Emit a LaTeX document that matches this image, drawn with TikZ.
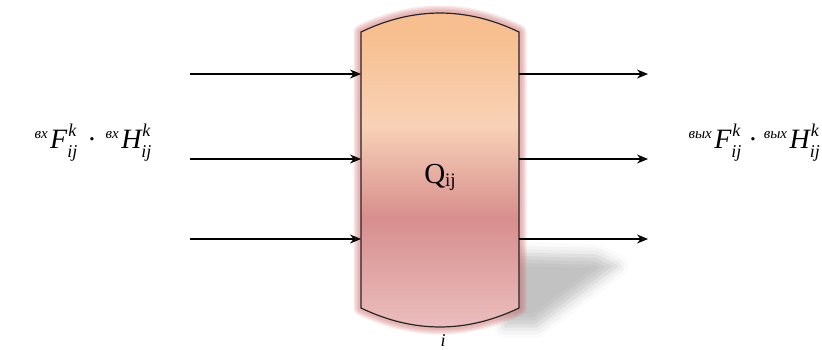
\documentclass[tikz,border=0pt]{standalone}
\usepackage{fontspec}
\setmainfont{Liberation Serif}
\usetikzlibrary{arrows.meta,shadows.blur}
\definecolor{glowc}{RGB}{205,95,95}
\definecolor{cTop}{RGB}{247,191,143}
\definecolor{cLight}{RGB}{248,210,182}
\definecolor{cDark}{RGB}{216,142,142}
\definecolor{cBot}{RGB}{236,192,192}
\pgfdeclareverticalshading{vesselshade}{100bp}{%
  color(0bp)=(cBot); color(25bp)=(cBot); color(42.6bp)=(cDark);
  color(56.9bp)=(cLight); color(70.7bp)=(cTop); color(75bp)=(cTop); color(100bp)=(cTop)}
\newcommand{\scrF}[1]{{\fontsize{18}{18}\selectfont #1}}
\newcommand{\prefx}[1]{\raisebox{10pt}{\fontsize{15}{15}\selectfont #1}\hspace{2.5pt}}
\newcommand{\idx}{\rlap{\raisebox{12pt}{\hspace{1pt}\scrF{k}}}\raisebox{-9pt}{\scrF{ij}}}
\tikzset{
  flow/.style={line width=1.2pt,-{Stealth[length=11pt,width=9pt]}},
  lbl/.style={font=\fontsize{28}{28}\selectfont\itshape,inner sep=0pt},
  vesselpath/.style={line width=1.2pt,draw=black!85}
}
\begin{document}
\begin{tikzpicture}[x=1pt,y=-1pt]
\useasboundingbox (0,0) rectangle (822,349);
% shadow
\path[blur shadow={shadow xshift=0pt,shadow yshift=0pt,shadow blur radius=12pt,shadow opacity=24}]
  (505,254) -- (596,256) -- (616,266) -- (536,326) -- (505,326) -- cycle;
% glow
\def\vessel{(361,32) .. controls (413.7,6.7) and (466.3,6.7) .. (519,32) -- (519,308) .. controls (466.3,333.3) and (413.7,333.3) .. (361,308) -- cycle}
\foreach \w in {15,12,9,6}{
  \draw[glowc,line width=\w pt,opacity=0.14,line join=round] \vessel;
}
\shade[shading=vesselshade] \vessel;
\draw[vesselpath] \vessel;
% named points
\node[inner sep=0pt,anchor=base] (vessel) at (440,183) {\fontsize{29}{29}\selectfont Q\raisebox{-3pt}{\fontsize{19}{19}\selectfont ij}};
\foreach \n/\y in {1/74,2/159,3/239}{
  \coordinate (in\n) at (190,\y);
  \coordinate (vl\n) at (361,\y);
  \coordinate (vr\n) at (519,\y);
  \coordinate (out\n) at (648,\y);
  \draw[flow] (in\n) -- (vl\n);
  \draw[flow] (vr\n) -- (out\n);
}
\node[lbl,anchor=base] (inlbl) at (93,148) {\prefx{вх}F\idx\hspace{10pt}{\upshape·}\hspace{9pt}\prefx{вх}H\idx};
\node[lbl,anchor=base east] (outlbl) at (820,148) {\prefx{вых}F\idx\hspace{7pt}{\upshape·}\hspace{6pt}\prefx{вых}H\idx};
\node[font=\fontsize{18}{18}\selectfont\itshape,anchor=base,inner sep=0pt] (ilbl) at (443,346) {i};
\end{tikzpicture}
\end{document}
